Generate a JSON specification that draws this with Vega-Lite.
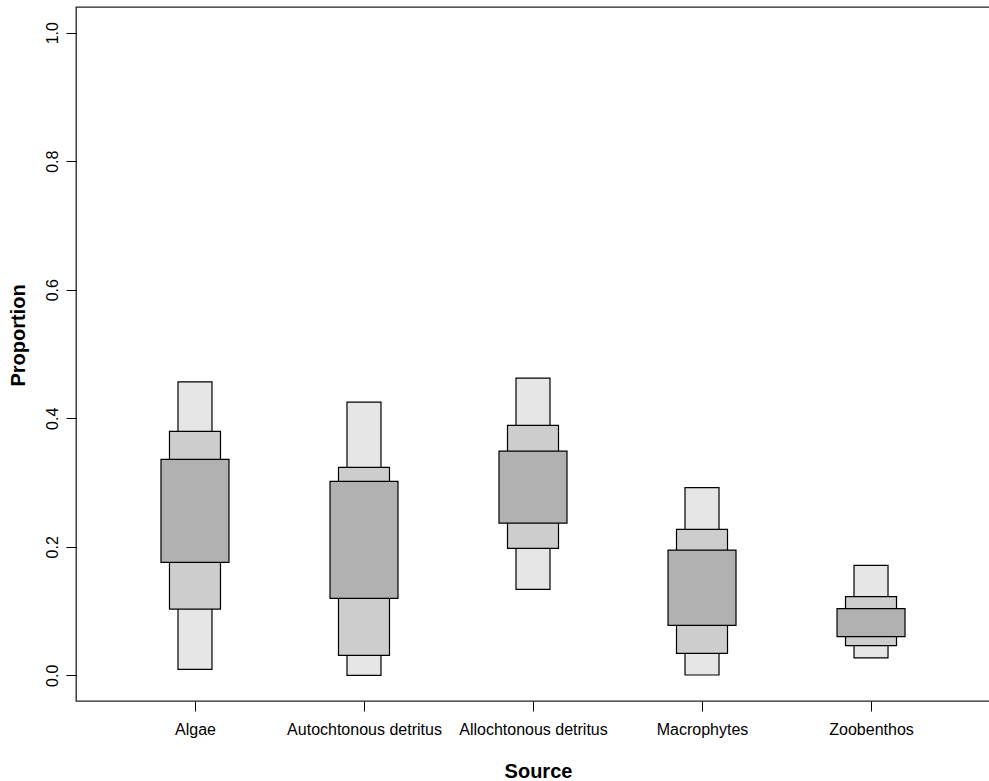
{
  "$schema": "https://vega.github.io/schema/vega-lite/v6.json",
  "autosize": "none",
  "padding": {"left": 76, "top": 7, "right": 0, "bottom": 80},
  "width": 914,
  "height": 694,
  "background": "white",
  "config": {
    "view": {"stroke": "#222222", "strokeWidth": 1.3},
    "font": "Liberation Sans"
  },
  "data": {
    "values": [
      {"source": "Algae", "level": "95", "lo": 0.0093, "hi": 0.4567},
      {"source": "Autochtonous detritus", "level": "95", "lo": 0.0, "hi": 0.425},
      {"source": "Allochtonous detritus", "level": "95", "lo": 0.1337, "hi": 0.4624},
      {"source": "Macrophytes", "level": "95", "lo": 0.0005, "hi": 0.2919},
      {"source": "Zoobenthos", "level": "95", "lo": 0.027, "hi": 0.1711},
      {"source": "Algae", "level": "75", "lo": 0.1031, "hi": 0.3795},
      {"source": "Autochtonous detritus", "level": "75", "lo": 0.031, "hi": 0.3235},
      {"source": "Allochtonous detritus", "level": "75", "lo": 0.1975, "hi": 0.3888},
      {"source": "Macrophytes", "level": "75", "lo": 0.0342, "hi": 0.2271},
      {"source": "Zoobenthos", "level": "75", "lo": 0.0462, "hi": 0.1224},
      {"source": "Algae", "level": "50", "lo": 0.1757, "hi": 0.336},
      {"source": "Autochtonous detritus", "level": "50", "lo": 0.1197, "hi": 0.3017},
      {"source": "Allochtonous detritus", "level": "50", "lo": 0.2369, "hi": 0.3489},
      {"source": "Macrophytes", "level": "50", "lo": 0.0778, "hi": 0.1949},
      {"source": "Zoobenthos", "level": "50", "lo": 0.0601, "hi": 0.1037}
    ]
  },
  "encoding": {
    "x": {
      "field": "source",
      "type": "nominal",
      "scale": {"type": "point", "padding": 0.704, "domain": ["Algae", "Autochtonous detritus", "Allochtonous detritus", "Macrophytes", "Zoobenthos"]},
      "axis": {
        "title": "Source",
        "titleFont": "Liberation Sans",
        "titleFontSize": 20,
        "titleFontWeight": "bold",
        "titleColor": "black",
        "titleBaseline": "alphabetic",
        "titleAnchor": "start",
        "titleAlign": "center",
        "titleX": 462,
        "titleY": 76,
        "labelAngle": 0,
        "labelFont": "Liberation Sans",
        "labelFontSize": 16,
        "labelColor": "black",
        "labelBaseline": "alphabetic",
        "labelPadding": 23,
        "tickSize": 10,
        "tickColor": "black",
        "tickWidth": 1,
        "domain": false,
        "grid": false
      }
    },
    "y": {
      "field": "lo",
      "type": "quantitative",
      "scale": {"domain": [-0.04, 1.04], "nice": false, "zero": false},
      "axis": {
        "title": "Proportion",
        "titleFont": "Liberation Sans",
        "titleFontSize": 20,
        "titleFontWeight": "bold",
        "titleColor": "black",
        "titleAngle": -90,
        "titleBaseline": "alphabetic",
        "titleAnchor": "start",
        "titleAlign": "center",
        "titleX": -52,
        "titleY": 328,
        "values": [0, 0.2, 0.4, 0.6, 0.8, 1.0],
        "format": ".1f",
        "labelAngle": -90,
        "labelAlign": "center",
        "labelBaseline": "alphabetic",
        "labelFont": "Liberation Sans",
        "labelFontSize": 16,
        "labelColor": "black",
        "labelPadding": 9,
        "tickSize": 10,
        "tickColor": "black",
        "tickWidth": 1,
        "domain": false,
        "grid": false
      }
    },
    "y2": {"field": "hi"}
  },
  "layer": [
    {
      "transform": [{"filter": "datum.level === '95'"}],
      "mark": {"type": "bar", "width": 34, "fill": "#e6e6e6", "stroke": "black", "strokeWidth": 1.2}
    },
    {
      "transform": [{"filter": "datum.level === '75'"}],
      "mark": {"type": "bar", "width": 51, "fill": "#cdcdcd", "stroke": "black", "strokeWidth": 1.2}
    },
    {
      "transform": [{"filter": "datum.level === '50'"}],
      "mark": {"type": "bar", "width": 68, "fill": "#b1b1b1", "stroke": "black", "strokeWidth": 1.2}
    }
  ]
}
